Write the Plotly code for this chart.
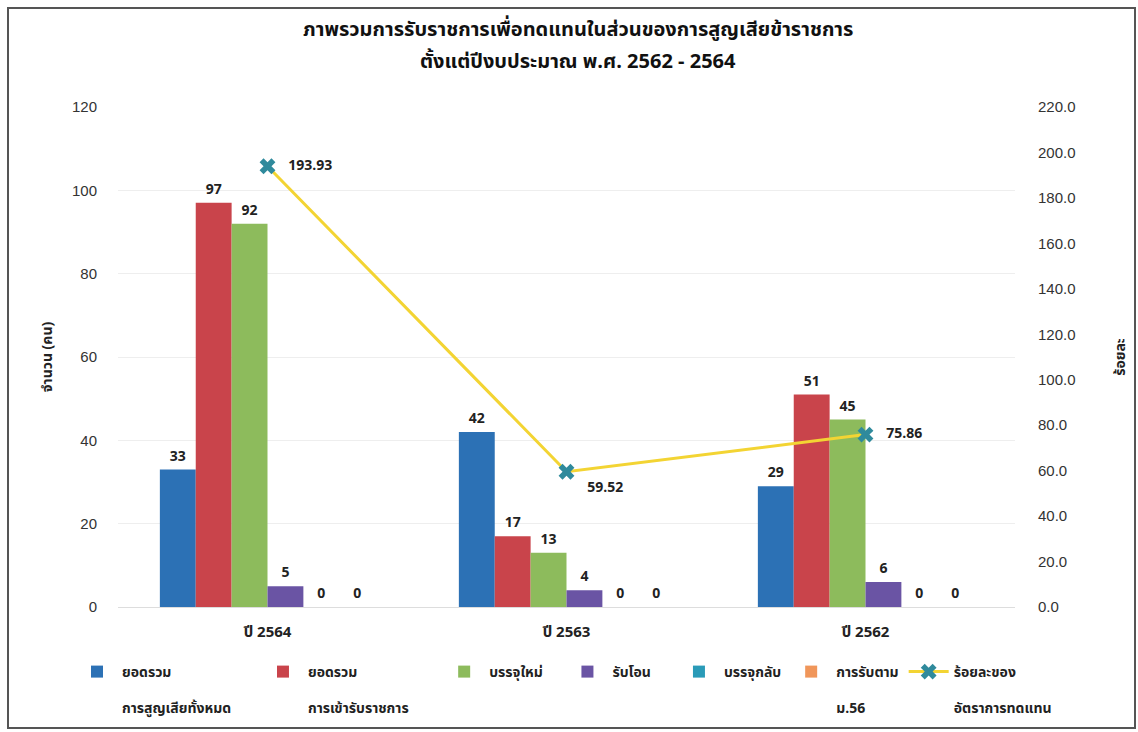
import plotly.graph_objects as go

# Fiscal-year categories and series values
years = ["ปี 2564", "ปี 2563", "ปี 2562"]
total_loss = [33, 42, 29]
total_hired = [97, 17, 51]
new_hire = [92, 13, 45]
transfer_in = [5, 4, 6]
rehire = [0, 0, 0]
section56 = [0, 0, 0]
replace_rate = [193.93, 59.52, 75.86]

NB = "\u00a0"
series_names = [
    "<b>ยอดรวม</b><br><br><b>การสูญเสียทั้งหมด</b>" + NB * 6,
    "<b>ยอดรวม</b><br><br><b>การเข้ารับราชการ</b>" + NB * 7,
    "<b>บรรจุใหม่</b>" + NB * 4,
    "<b>รับโอน</b>" + NB * 5,
    "<b>บรรจุกลับ</b>",
    "<b>การรับตาม</b><br><br><b>ม.56</b>" + NB * 3,
]
series_values = [total_loss, total_hired, new_hire, transfer_in, rehire, section56]
series_colors = ["#2c71b5", "#c9444b", "#8dbb5c", "#6a54a4", "#2a9bb8", "#f0965a"]
line_name = "<b>ร้อยละของ</b><br><br><b>อัตราการทดแทน</b>"

FONT = "Tahoma, 'Noto Sans Thai', 'Leelawadee UI', 'DejaVu Sans', sans-serif"
NUMFONT = "'Liberation Sans', Arial, sans-serif"

fig = go.Figure()

for name, vals, col in zip(series_names, series_values, series_colors):
    fig.add_trace(go.Bar(
        x=years, y=vals, name=name,
        marker=dict(color=col, line=dict(width=0)),
        text=[f"<b>{v}</b>" for v in vals], textposition="outside",
        textfont=dict(family=FONT, size=14, color="#222222"),
        cliponaxis=False,
    ))

fig.add_trace(go.Scatter(
    x=years, y=replace_rate, name=line_name, yaxis="y2",
    mode="lines+markers+text",
    line=dict(color="#f3d433", width=3),
    marker=dict(symbol="x", size=14, color="#2f8a9c"),
    text=[f"<b>{NB * 3}{v:.2f}</b>" for v in replace_rate],
    textposition=["middle right", "bottom right", "middle right"],
    textfont=dict(family=FONT, size=14, color="#222222"),
    cliponaxis=False,
))

L, R, T, B = 118, 123, 107, 125
W, H = 1138, 732
pw, ph = W - L - R, H - T - B


def px_x(x):
    return (x - L) / pw


def px_y(y):
    return (H - B - y) / ph


fig.update_layout(
    width=W, height=H,
    margin=dict(l=L, r=R, t=T, b=B, autoexpand=False),
    paper_bgcolor="white", plot_bgcolor="white",
    font=dict(family=FONT, size=14, color="#222222"),
    barmode="group", bargap=0.28, bargroupgap=0,
    showlegend=True,
    legend=dict(
        orientation="h", x=px_x(72), y=px_y(656), xanchor="left", yanchor="top",
        font=dict(family=FONT, size=14, color="#222222"),
        bgcolor="rgba(0,0,0,0)",
        valign="top", itemwidth=40, tracegroupgap=0,
        traceorder="normal",
    ),
    xaxis=dict(
        showgrid=False, showline=False, ticks="",
        tickfont=dict(family=FONT, size=15, color="#222222"),
        tickvals=years, ticktext=[f"<b>{y}</b>" for y in years],
        ticklabelstandoff=14,
    ),
    yaxis=dict(
        range=[0, 120], dtick=20, showgrid=True, gridcolor="#eeeeee",
        zeroline=True, zerolinecolor="#dddddd", zerolinewidth=1,
        tickfont=dict(family=NUMFONT, size=15, color="#333333"),
        ticklabelstandoff=20,
        title=dict(text="<b>จำนวน (คน)</b>", standoff=16,
                   font=dict(family=FONT, size=14, color="#222222")),
    ),
    yaxis2=dict(
        range=[0, 220], dtick=20, overlaying="y", side="right",
        showgrid=False, zeroline=False, tickformat=".1f",
        tickfont=dict(family=NUMFONT, size=15, color="#333333"),
        ticklabelstandoff=22,
        title=dict(text="<b>ร้อยละ</b>", standoff=40,
                   font=dict(family=FONT, size=14, color="#222222")),
    ),
    annotations=[
        dict(text="<b>ภาพรวมการรับราชการเพื่อทดแทนในส่วนของการสูญเสียข้าราชการ</b>",
             xref="paper", yref="paper", x=px_x(578), y=px_y(30),
             xanchor="center", yanchor="middle", showarrow=False,
             font=dict(family=FONT, size=20, color="#111111")),
        dict(text="<b>ตั้งแต่ปีงบประมาณ พ.ศ. 2562 - 2564</b>",
             xref="paper", yref="paper", x=px_x(578), y=px_y(62),
             xanchor="center", yanchor="middle", showarrow=False,
             font=dict(family=FONT, size=20, color="#111111")),
    ],
    shapes=[
        dict(type="rect", xref="paper", yref="paper",
             x0=px_x(8), x1=px_x(1135), y0=px_y(728), y1=px_y(8),
             line=dict(color="#555555", width=2), layer="below"),
    ],
)

fig.write_html("out.html")
